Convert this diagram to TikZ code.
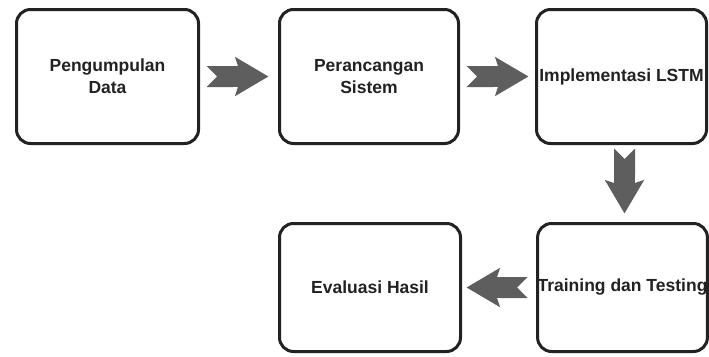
\documentclass[tikz,border=0pt]{standalone}
\usepackage{fontspec}
\setmainfont{Liberation Sans}
\usetikzlibrary{arrows.meta}
\definecolor{boxline}{HTML}{222222}
\definecolor{arrowgray}{HTML}{5E5E5E}
\begin{document}
\begin{tikzpicture}[x=1pt,y=-1pt,
  stepbox/.style={draw=boxline, line width=3pt, rounded corners=14pt, align=center,
    font=\bfseries\fontsize{17.5}{22}\selectfont, text=boxline, inner sep=0pt},
  flow/.style={draw=arrowgray, line width=21pt,
    {Triangle Cap[reversed]}-{Stealth[length=33pt,width=38pt,inset=6pt]}}]
\useasboundingbox[fill=white] (0,0) rectangle (709,356);
\node[stepbox, minimum width=182pt, minimum height=134pt] (b1) at (107.5,76.5) {Pengumpulan\\Data};
\node[stepbox, minimum width=179pt, minimum height=134pt] (b2) at (369,76.5) {Perancangan\\Sistem};
\node[stepbox, minimum width=170pt, minimum height=134pt] (b3) at (621.5,76.5) {Implementasi LSTM};
\node[stepbox, minimum width=181pt, minimum height=128pt] (b4) at (370,287.5) {Evaluasi Hasil};
\node[stepbox, minimum width=168pt, minimum height=128pt] (b5) at (622.5,287.5) {Training dan Testing};
\draw[flow, shorten <=6.5pt, shorten >=9.5pt] (b1) -- (b2);
\draw[flow, shorten <=6.5pt, shorten >=6.5pt] (b2) -- (b3);
\draw[flow, shorten <=3.5pt, shorten >=8.5pt] ([xshift=3pt]b3.south) -- ([xshift=3pt]b3.south |- b5.north);
\draw[flow, shorten <=8.5pt, shorten >=4.5pt] (b5) -- (b4);
\end{tikzpicture}
\end{document}
